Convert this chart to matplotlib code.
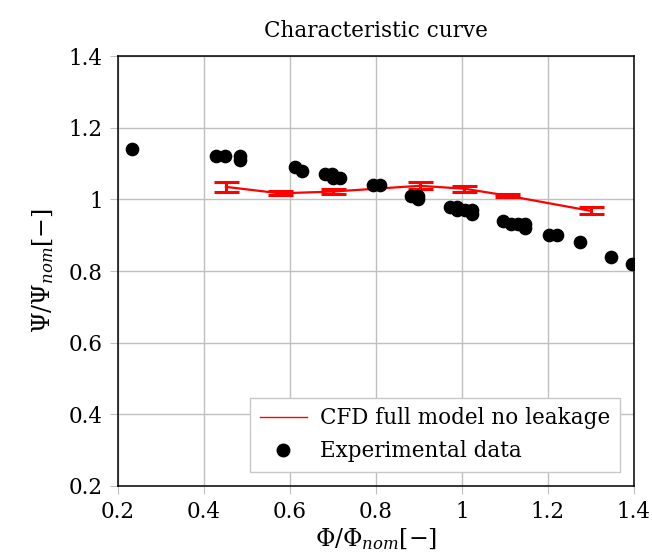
import matplotlib
matplotlib.use('Agg')
import matplotlib.pyplot as plt
from matplotlib.lines import Line2D

# experimental measurements
exp_phi = [0.233, 0.428, 0.449, 0.484, 0.484, 0.612, 0.627, 0.681, 0.699, 0.701, 0.716,
           0.794, 0.809, 0.881, 0.898, 0.898, 0.972, 0.989, 0.989, 1.007, 1.023, 1.023,
           1.095, 1.114, 1.131, 1.148, 1.148, 1.203, 1.222, 1.274, 1.347, 1.397]
exp_psi = [1.14, 1.12, 1.12, 1.12, 1.11, 1.09, 1.08, 1.07, 1.07, 1.06, 1.06,
           1.04, 1.04, 1.01, 1.01, 1.0, 0.98, 0.98, 0.97, 0.97, 0.97, 0.96,
           0.94, 0.93, 0.93, 0.93, 0.92, 0.90, 0.90, 0.88, 0.84, 0.82]

# CFD results with uncertainty
cfd_phi = [0.451, 0.577, 0.701, 0.902, 1.005, 1.104, 1.300]
cfd_psi = [1.035, 1.017, 1.022, 1.038, 1.030, 1.011, 0.968]
cfd_err = [0.014, 0.006, 0.006, 0.010, 0.008, 0.004, 0.010]

plt.rcParams['font.family'] = ['DejaVu Serif']
plt.rcParams['mathtext.fontset'] = 'dejavuserif'

fig = plt.figure(figsize=(6.52, 5.56), dpi=100)
ax = fig.add_axes([0.181, 0.126, 0.791, 0.773])

ax.errorbar(cfd_phi, cfd_psi, yerr=cfd_err, color='red', lw=1.6,
            elinewidth=2.2, capsize=9, capthick=2.2, zorder=3)
ax.scatter(exp_phi, exp_psi, s=78, color='black', zorder=4)

ax.set_xlim(0.2, 1.4)
ax.set_ylim(0.2, 1.4)
ax.set_xticks([0.2, 0.4, 0.6, 0.8, 1.0, 1.2, 1.4])
ax.set_xticklabels(['0.2', '0.4', '0.6', '0.8', '1', '1.2', '1.4'])
ax.set_yticks([0.2, 0.4, 0.6, 0.8, 1.0, 1.2, 1.4])
ax.set_yticklabels(['0.2', '0.4', '0.6', '0.8', '1', '1.2', '1.4'])
ax.grid(True, color='#c0c0c0', lw=1)
ax.tick_params(direction='out', length=6, color='#c0c0c0', labelsize=15.5, pad=5)
for sp in ax.spines.values():
    sp.set_linewidth(1.1)

ax.set_xlabel(r'$\Phi/\Phi_{nom}[-]$', fontsize=17, labelpad=2)
ax.set_ylabel(r'$\Psi/\Psi_{nom}[-]$', fontsize=17, labelpad=9)
ax.set_title('Characteristic curve', fontsize=15.5, pad=14)

handles = [Line2D([], [], color='red', lw=1),
           Line2D([], [], color='black', marker='o', ls='none', markersize=9)]
ax.legend(handles, ['CFD full model no leakage', 'Experimental data'],
          loc='lower right', bbox_to_anchor=(0.973, 0.033), borderaxespad=0,
          fontsize=15.5, frameon=True, fancybox=False, edgecolor='#c8c8c8',
          framealpha=1, handlelength=2.2, handletextpad=0.6, borderpad=0.45,
          labelspacing=0.5)

fig.savefig('out.png', dpi=100)
